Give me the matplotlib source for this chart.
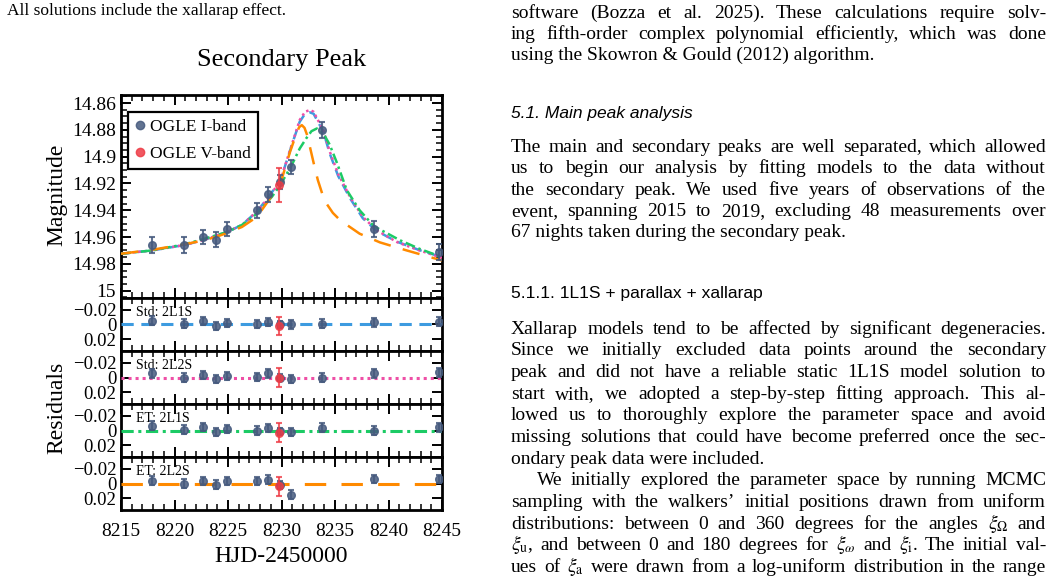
import matplotlib
matplotlib.use("Agg")
import matplotlib.pyplot as plt
from matplotlib.ticker import FixedLocator, MultipleLocator
from matplotlib.lines import Line2D

plt.rcParams['font.family'] = ['Liberation Serif', 'DejaVu Serif']
plt.rcParams['mathtext.fontset'] = 'stix'

# ---- OGLE photometry around the secondary peak ----
t_I = [8217.87, 8220.92, 8222.7, 8223.85, 8224.9, 8227.7, 8228.77, 8229.85, 8230.86, 8233.8, 8238.65, 8244.75]
mag_I = [14.966, 14.966, 14.960, 14.962, 14.954, 14.940, 14.928, 14.919, 14.9077, 14.880, 14.954, 14.971]
err_I = [0.006, 0.006, 0.0055, 0.0055, 0.0055, 0.0055, 0.0055, 0.005, 0.0055, 0.006, 0.006, 0.006]

t_V = [8229.77]
mag_V = [14.921]
err_V = [0.0128]

# ---- model light curves ----
t_std21 = [8215, 8217.9, 8220.9, 8222.7, 8224.9, 8226.3, 8227.7, 8228.8, 8229.9, 8230.6, 8231.1, 8231.7,
           8232.2, 8232.66, 8233.0, 8233.4, 8233.9, 8234.5, 8235.3, 8236.4, 8237.6, 8238.9, 8240.8, 8242.9, 8245]
m_std21 = [14.9725, 14.970, 14.966, 14.9623, 14.9563, 14.951, 14.941, 14.930, 14.9175, 14.9005, 14.888, 14.874,
           14.868, 14.867, 14.868, 14.874, 14.881, 14.8975, 14.9145, 14.931, 14.946, 14.9555, 14.9635, 14.9698, 14.975]

t_std22 = t_std21
m_std22 = [14.9725, 14.970, 14.966, 14.9623, 14.9563, 14.951, 14.941, 14.9305, 14.918, 14.900, 14.8877, 14.8727,
           14.8665, 14.8652, 14.8665, 14.8727, 14.880, 14.896, 14.913, 14.930, 14.945, 14.955, 14.9638, 14.970, 14.9755]

t_et21 = [8215, 8217.9, 8220.9, 8222.7, 8224.9, 8226.3, 8227.7, 8229.1, 8229.9, 8230.95, 8231.7, 8232.3,
          8232.8, 8233.3, 8233.9, 8234.5, 8235.2, 8236.1, 8237.3, 8238.65, 8241.1, 8242.9, 8245]
m_et21 = [14.9725, 14.970, 14.9655, 14.9615, 14.9563, 14.951, 14.9426, 14.930, 14.921, 14.9064, 14.894, 14.8865,
          14.881, 14.879, 14.8825, 14.891, 14.905, 14.925, 14.940, 14.952, 14.9625, 14.9688, 14.975]

t_et22 = [8215, 8217.9, 8220.9, 8222.7, 8223.85, 8224.9, 8226.3, 8227.7, 8228.8, 8229.9, 8230.8, 8231.4,
          8231.65, 8231.9, 8232.15, 8232.4, 8232.8, 8233.1, 8233.4, 8233.8, 8234.2, 8234.8, 8235.5, 8236.3,
          8237.3, 8239.2, 8241.7, 8245]
m_et22 = [14.9725, 14.9695, 14.9655, 14.9625, 14.960, 14.957, 14.9525, 14.945, 14.9326, 14.920, 14.8964, 14.8827,
          14.878, 14.8765, 14.8785, 14.884, 14.8977, 14.908, 14.9176, 14.9275, 14.935, 14.942, 14.9476, 14.952,
          14.9575, 14.964, 14.970, 14.9775]

# ---- residuals (I-band list, then the V-band point) ----
res_std21 = [-0.005, -0.001, -0.0045, 0.002, -0.002, -0.0005, -0.0035, 0.0, 0.0, -0.001, -0.003, -0.004]
res_std21_V = [0.002]
res_std22 = [-0.006, 0.0, -0.0036, 0.002, -0.002, -0.0005, -0.0055, 0.0, 0.002, 0.0, -0.006, -0.007]
res_std22_V = [0.0]
res_et21 = [-0.0063, -0.001, -0.0045, 0.0023, -0.002, 0.0, -0.0036, 0.001, 0.0023, -0.0036, 0.0, -0.0045]
res_et21_V = [0.003]
res_et22 = [-0.0036, 0.0, -0.0036, 0.0014, -0.0036, -0.0036, -0.0054, 0.002, 0.015, -0.05, -0.0061, -0.0061]
res_et22_V = [0.0036]

mag_ticks = [14.86, 14.88, 14.90, 14.92, 14.94, 14.96, 14.98, 15.00]
mag_labels = ['14.86', '14.88', '14.9', '14.92', '14.94', '14.96', '14.98', '15']

c_I = '#465a7e'
c_V = '#ee3b45'
c_blue = '#3d9be0'
c_pink = '#ee4fa6'
c_green = '#1ccb65'
c_orange = '#ff8a00'

W, H = 1057, 583
fig = plt.figure(figsize=(W / 100, H / 100), dpi=100)


def fx(px):
    return px / W


def fy(py):
    return 1 - py / H


def style(ax):
    ax.set_xlim(8215, 8245)
    ax.xaxis.set_major_locator(MultipleLocator(5))
    ax.xaxis.set_minor_locator(MultipleLocator(1))
    ax.tick_params(which='both', direction='in', top=True, right=True, labelsize=14)
    ax.tick_params(which='major', length=7, width=1.4)
    ax.tick_params(which='minor', length=4, width=1.1)
    ax.tick_params(axis='x', pad=9)
    for s in ax.spines.values():
        s.set_linewidth(2)


def points(ax, yI, yV):
    ax.errorbar(t_I, yI, yerr=err_I, fmt='o', color=c_I, ms=5.5, capsize=2,
                elinewidth=1.5, capthick=1.5, alpha=0.85, zorder=4)
    ax.errorbar(t_V, yV, yerr=err_V, fmt='o', color=c_V, ms=5.5, capsize=2,
                elinewidth=1.5, capthick=1.5, alpha=0.8, zorder=5)


x0, x1 = 121, 442
ax = fig.add_axes([fx(x0), fy(298), (x1 - x0) / W, (298 - 95) / H])
style(ax)
ax.plot(t_std21, m_std21, color=c_blue, lw=1.8, ls=(0, (4, 2.5)), zorder=3)
ax.plot(t_std22, m_std22, color=c_pink, lw=1.8, ls=(0, (1, 1.3)), zorder=3)
ax.plot(t_et21, m_et21, color=c_green, lw=1.8, ls=(0, (4, 1.5, 1, 1.5)), zorder=3)
ax.plot(t_et22, m_et22, color=c_orange, lw=1.8, ls=(0, (7, 5)), zorder=3)
points(ax, mag_I, mag_V)
ax.set_ylim(15.0055, 14.854)
ax.yaxis.set_major_locator(FixedLocator(mag_ticks))
ax.set_yticklabels(mag_labels)
ax.yaxis.set_minor_locator(MultipleLocator(0.005))
ax.tick_params(labelbottom=False)
ax.set_title('Secondary Peak', fontsize=19, pad=21)

handles = [Line2D([], [], ls='none', marker='o', ms=6, color=c_I, alpha=0.85),
           Line2D([], [], ls='none', marker='o', ms=6, color=c_V, alpha=0.85)]
leg = ax.legend(handles, ['OGLE I-band', 'OGLE V-band'], loc='upper left',
                bbox_to_anchor=(0.022, 0.915), borderaxespad=0, fontsize=12.5,
                fancybox=False, framealpha=1, edgecolor='black',
                handletextpad=0.25, handlelength=0.6, borderpad=0.4, labelspacing=0.6)
leg.get_frame().set_linewidth(1.6)

panels = [
    ('Std: 2L1S', res_std21, res_std21_V, c_blue, (0, (4, 2.5))),
    ('Std: 2L2S', res_std22, res_std22_V, c_pink, (0, (1, 1.3))),
    ('ET: 2L1S', res_et21, res_et21_V, c_green, (0, (4, 1.5, 1, 1.5))),
    ('ET: 2L2S', res_et22, res_et22_V, c_orange, (0, (7, 5))),
]
tops = [298, 351, 404, 457]
for (name, rI, rV, col, ls), top in zip(panels, tops):
    rax = fig.add_axes([fx(x0), fy(top + 53), (x1 - x0) / W, 53 / H])
    style(rax)
    rax.axhline(0, color=col, lw=2.2, ls=ls, zorder=3)
    points(rax, rI, rV)
    rax.set_ylim(0.036, -0.036)
    rax.set_yticks([-0.02, 0, 0.02])
    rax.set_yticklabels(['\u22120.02', '0', '0.02'])
    rax.tick_params(axis='y', labelsize=13.5)
    rax.text(0.047, 0.73, name, transform=rax.transAxes, fontsize=10, va='center')
    if top != tops[-1]:
        rax.tick_params(labelbottom=False)

rax.set_xlabel('HJD-2450000', fontsize=17, labelpad=5)
fig.text(fx(57), fy(195), 'Magnitude', rotation=90, fontsize=17, ha='center', va='center')
fig.text(fx(57), fy(408), 'Residuals', rotation=90, fontsize=17, ha='center', va='center')

# ---- surrounding page text ----
fig.text(fx(7), fy(15), 'All solutions include the xallarap effect.', fontsize=12.5, va='baseline')

renderer = fig.canvas.get_renderer()
L, R = 511, 1046
body = 14


def put_line(text, y, justify=True, left=L, size=body, **kw):
    if not justify:
        fig.text(fx(left), fy(y), text, fontsize=size, va='baseline', **kw)
        return
    words = text.split(' ')
    arts = [fig.text(0, 0, w, fontsize=size, va='baseline', **kw) for w in words]
    widths = [a.get_window_extent(renderer).width for a in arts]
    gap = (R - left - sum(widths)) / (len(words) - 1)
    x = left
    for a, w in zip(arts, widths):
        a.set_position((fx(x), fy(y)))
        x += w + gap


put_line('software (Bozza et al. 2025). These calculations require solv-', 18)
put_line('ing fifth-order complex polynomial efficiently, which was done', 39)
put_line('using the Skowron & Gould (2012) algorithm.', 60, justify=False)

fig.text(fx(L), fy(118), '5.1. Main peak analysis', fontsize=12.5, va='baseline',
         family='Liberation Sans', style='italic')

para2 = ['The main and secondary peaks are well separated, which allowed',
         'us to begin our analysis by fitting models to the data without',
         'the secondary peak. We used five years of observations of the',
         'event, spanning 2015 to 2019, excluding 48 measurements over']
for i, s in enumerate(para2):
    put_line(s, 152 + 21.3 * i)
put_line('67 nights taken during the secondary peak.', 152 + 21.3 * 4, justify=False)

fig.text(fx(L), fy(298), '5.1.1. 1L1S + parallax + xallarap', fontsize=12.5, va='baseline',
         family='Liberation Sans')

para3 = ['Xallarap models tend to be affected by significant degeneracies.',
         'Since we initially excluded data points around the secondary',
         'peak and did not have a reliable static 1L1S model solution to',
         'start with, we adopted a step-by-step fitting approach. This al-',
         'lowed us to thoroughly explore the parameter space and avoid',
         'missing solutions that could have become preferred once the sec-']
for i, s in enumerate(para3):
    put_line(s, 333.5 + 21.7 * i)
put_line('ondary peak data were included.', 333.5 + 21.7 * 6, justify=False)
put_line('We initially explored the parameter space by running MCMC', 333.5 + 21.7 * 7, left=L + 26)
para4 = ['sampling with the walkers\u2019 initial positions drawn from uniform',
         r'distributions: between 0 and 360 degrees for the angles $\xi_\Omega$ and',
         r'$\xi_\mathrm{u}$, and between 0 and 180 degrees for $\xi_\omega$ and $\xi_\mathrm{i}$. The initial val-',
         r'ues of $\xi_\mathrm{a}$ were drawn from a log-uniform distribution in the range']
for i, s in enumerate(para4):
    put_line(s, 333.5 + 21.7 * (8 + i))

fig.savefig('out.png', dpi=100)
